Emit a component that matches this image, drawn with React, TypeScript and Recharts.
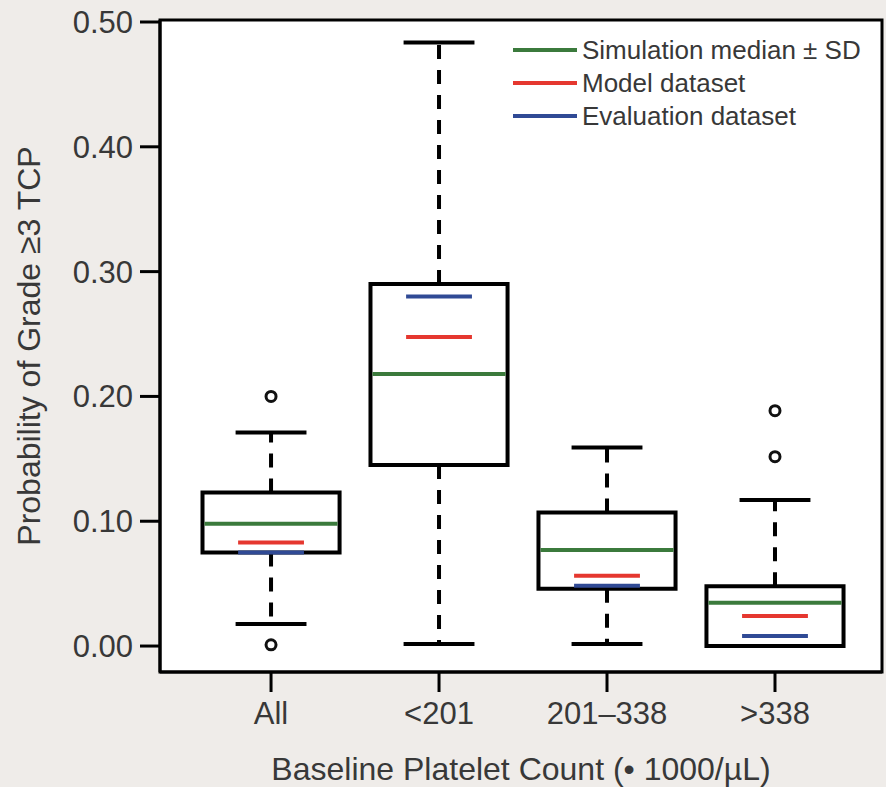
import React from 'react';
import {
  ComposedChart,
  XAxis,
  YAxis,
  Scatter,
  ReferenceArea,
  ReferenceLine,
  Legend
} from 'recharts';

const categories = ['All', '<201', '201–338', '>338'];
const positions = [1, 2, 3, 4];
const q1 = [0.075, 0.145, 0.046, 0.0];
const q3 = [0.123, 0.29, 0.107, 0.048];
const whiskerLow = [0.0176, 0.0016, 0.0016, 0.0];
const whiskerHigh = [0.171, 0.4835, 0.159, 0.117];
const simMedian = [0.098, 0.218, 0.077, 0.0347];
const modelValue = [0.083, 0.2476, 0.0563, 0.024];
const evalValue = [0.075, 0.28, 0.0483, 0.008];
const outliers = [[0.2, 0.001], [], [], [0.1886, 0.1517]];
const yTicks = [0, 0.1, 0.2, 0.3, 0.4, 0.5];

const legendItems = [
  { name: 'Simulation median ± SD', color: '#3b7a3c' },
  { name: 'Model dataset', color: '#e5372f' },
  { name: 'Evaluation dataset', color: '#304a95' }
];

const FONT = '"Liberation Sans", Arial, Helvetica, sans-serif';
const TEXT = '#383838';
const X_DOMAIN: [number, number] = [0.339, 4.637];
const Y_DOMAIN: [number, number] = [-0.0208, 0.5016];

// half widths in x units
const BOX_HALF = 0.408;
const CAP_HALF = 0.211;
const MARK_HALF = 0.196;

const outlierData = outliers.flatMap((vals, i) => vals.map((v) => ({ x: positions[i], y: v })));

const LegendBox = () => (
  <svg width={370} height={110} style={{ display: 'block' }}>
    {legendItems.map((item, i) => (
      <g key={item.name}>
        <line x1={0} x2={64} y1={20 + i * 33} y2={20 + i * 33} stroke={item.color} strokeWidth={4} />
        <text x={69} y={20 + i * 33} dy="0.35em" fontSize={26} fontFamily={FONT} fill={TEXT}>
          {item.name}
        </text>
      </g>
    ))}
  </svg>
);

export default function App() {
  return (
    <div style={{ position: 'absolute', left: 0, top: 0, width: 886, height: 787, background: '#efece9' }}>
      <ComposedChart
        width={886}
        height={787}
        data={outlierData}
        margin={{ top: 20, right: 4, left: 0, bottom: 0 }}
      >
        <XAxis
          dataKey="x"
          type="number"
          domain={X_DOMAIN}
          ticks={positions}
          interval={0}
          allowDataOverflow
          height={115}
          tickSize={20}
          tickMargin={10}
          tickFormatter={(v: number) => categories[v - 1] ?? ''}
          tick={{ fill: TEXT, fontSize: 31, fontFamily: FONT }}
          tickLine={{ stroke: '#000', strokeWidth: 3 }}
          axisLine={{ stroke: '#000', strokeWidth: 3 }}
          label={{
            value: 'Baseline Platelet Count (• 1000/µL)',
            position: 'insideBottom',
            offset: 7,
            style: { fill: TEXT, fontSize: 32, fontFamily: FONT }
          }}
        />
        <YAxis
          dataKey="y"
          type="number"
          domain={Y_DOMAIN}
          ticks={yTicks}
          allowDataOverflow
          width={160}
          tickSize={20}
          tickMargin={7}
          tickFormatter={(v: number) => v.toFixed(2)}
          tick={{ fill: TEXT, fontSize: 31, fontFamily: FONT }}
          tickLine={{ stroke: '#000', strokeWidth: 3 }}
          axisLine={{ stroke: '#000', strokeWidth: 3 }}
          label={{
            value: 'Probability of Grade ≥3 TCP',
            angle: -90,
            position: 'insideLeft',
            offset: 29,
            style: { fill: TEXT, fontSize: 32, fontFamily: FONT, textAnchor: 'middle' }
          }}
        />

        {/* plot frame */}
        <ReferenceArea
          x1={X_DOMAIN[0]}
          x2={X_DOMAIN[1]}
          y1={Y_DOMAIN[0]}
          y2={Y_DOMAIN[1]}
          fill="#fff"
          fillOpacity={1}
          stroke="#000"
          strokeWidth={3}
          ifOverflow="visible"
        />

        {/* whiskers */}
        {positions.map((p, i) => (
          <ReferenceLine
            key={`wh-${i}`}
            segment={[{ x: p, y: q3[i] }, { x: p, y: whiskerHigh[i] }]}
            stroke="#000"
            strokeWidth={4}
            strokeDasharray="14 11"
          />
        ))}
        {positions.map((p, i) =>
          whiskerLow[i] < q1[i] ? (
            <ReferenceLine
              key={`wl-${i}`}
              segment={[{ x: p, y: q1[i] }, { x: p, y: whiskerLow[i] }]}
              stroke="#000"
              strokeWidth={4}
              strokeDasharray="14 11"
            />
          ) : null
        )}
        {positions.map((p, i) => (
          <ReferenceLine
            key={`ch-${i}`}
            segment={[{ x: p - CAP_HALF, y: whiskerHigh[i] }, { x: p + CAP_HALF, y: whiskerHigh[i] }]}
            stroke="#000"
            strokeWidth={4}
          />
        ))}
        {positions.map((p, i) =>
          whiskerLow[i] < q1[i] ? (
            <ReferenceLine
              key={`cl-${i}`}
              segment={[{ x: p - CAP_HALF, y: whiskerLow[i] }, { x: p + CAP_HALF, y: whiskerLow[i] }]}
              stroke="#000"
              strokeWidth={4}
            />
          ) : null
        )}

        {/* boxes */}
        {positions.map((p, i) => (
          <ReferenceArea
            key={`box-${i}`}
            x1={p - BOX_HALF}
            x2={p + BOX_HALF}
            y1={q1[i]}
            y2={q3[i]}
            fill="#fff"
            fillOpacity={0}
            stroke="#000"
            strokeWidth={4}
            ifOverflow="visible"
          />
        ))}

        {/* simulation median, model and evaluation values */}
        {positions.map((p, i) => (
          <ReferenceLine
            key={`med-${i}`}
            segment={[{ x: p - BOX_HALF + 0.012, y: simMedian[i] }, { x: p + BOX_HALF - 0.012, y: simMedian[i] }]}
            stroke={legendItems[0].color}
            strokeWidth={4}
          />
        ))}
        {positions.map((p, i) => (
          <ReferenceLine
            key={`mod-${i}`}
            segment={[{ x: p - MARK_HALF, y: modelValue[i] }, { x: p + MARK_HALF, y: modelValue[i] }]}
            stroke={legendItems[1].color}
            strokeWidth={4}
          />
        ))}
        {positions.map((p, i) => (
          <ReferenceLine
            key={`ev-${i}`}
            segment={[{ x: p - MARK_HALF, y: evalValue[i] }, { x: p + MARK_HALF, y: evalValue[i] }]}
            stroke={legendItems[2].color}
            strokeWidth={4}
          />
        ))}

        <Scatter
          dataKey="y"
          isAnimationActive={false}
          shape={(props: any) => (
            <circle cx={props.cx} cy={props.cy} r={5} fill="#fff" stroke="#111" strokeWidth={3} />
          )}
        />

        <Legend
          layout="horizontal"
          align="center"
          verticalAlign="middle"
          wrapperStyle={{ position: 'absolute', left: 513, top: 30, width: 370 }}
          content={() => <LegendBox />}
        />
      </ComposedChart>
    </div>
  );
}
